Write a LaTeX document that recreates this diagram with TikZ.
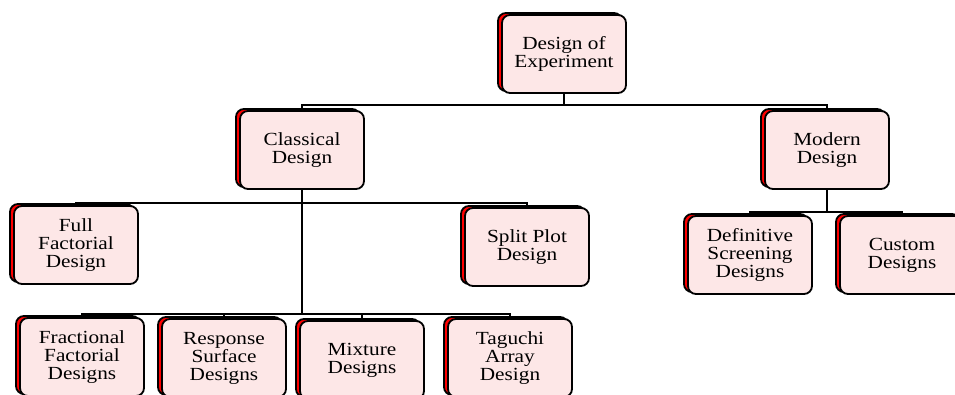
\documentclass[tikz,border=0pt]{standalone}
\usepackage{fontspec}
\setmainfont[FakeStretch=1.15]{Liberation Serif}
\usetikzlibrary{shadows}
\definecolor{boxpink}{RGB}{253,231,231}
\tikzset{
  dbox/.style={draw=black, line width=1.8pt, fill=boxpink, rounded corners=8pt,
    minimum width=124pt, minimum height=78pt, align=center, inner sep=2pt,
    font=\fontsize{18.5}{18}\selectfont,
    general shadow={shadow xshift=-4pt, shadow yshift=2pt, fill=red, draw=black, line width=1.8pt}},
  link/.style={draw=black, line width=1.5pt}
}
\begin{document}
\begin{tikzpicture}[x=1pt, y=-1pt]
    \useasboundingbox[fill=white] (0,0) rectangle (955,394);

    \node[dbox] (doe)       at (564,54)  {Design of\\Experiment};
    \node[dbox] (classical) at (302,150) {Classical\\Design};
    \node[dbox] (modern)    at (827,150) {Modern\\Design};
    \node[dbox] (full)      at (76,245)  {Full\\Factorial\\Design};
    \node[dbox] (split)     at (527,247) {Split Plot\\Design};
    \node[dbox] (frac)      at (82,357)  {Fractional\\Factorial\\Designs};
    \node[dbox] (resp)      at (224,358) {Response\\Surface\\Designs};
    \node[dbox] (mix)       at (362,360) {Mixture\\Designs};
    \node[dbox] (tag)       at (510,358) {Taguchi\\Array\\Design};
    \node[dbox] (defin)     at (750,255) {Definitive\\Screening\\Designs};
    \node[dbox] (custom)    at (902,255) {Custom\\Designs};

    \coordinate (j0) at (564,105);
    \coordinate (j1) at (302,203);
    \coordinate (j2) at (302,314);
    \coordinate (j3) at (827,212);

    \begin{scope}[every path/.style={link}]
       \draw (doe.south) -- (j0);
       \draw (j0) -| (classical.north);
       \draw (j0) -| (modern.north);
       \draw (classical.south) -- (j2);
       \draw (j1) -| (full.north);
       \draw (j1) -| (split.north);
       \draw (j2) -| (frac.north);
       \draw (j2) -| (resp.north);
       \draw (j2) -| (mix.north);
       \draw (j2) -| (tag.north);
       \draw (modern.south) -- (j3);
       \draw (j3) -| (defin.north);
       \draw (j3) -| (custom.north);
    \end{scope}

\end{tikzpicture}
\end{document}
